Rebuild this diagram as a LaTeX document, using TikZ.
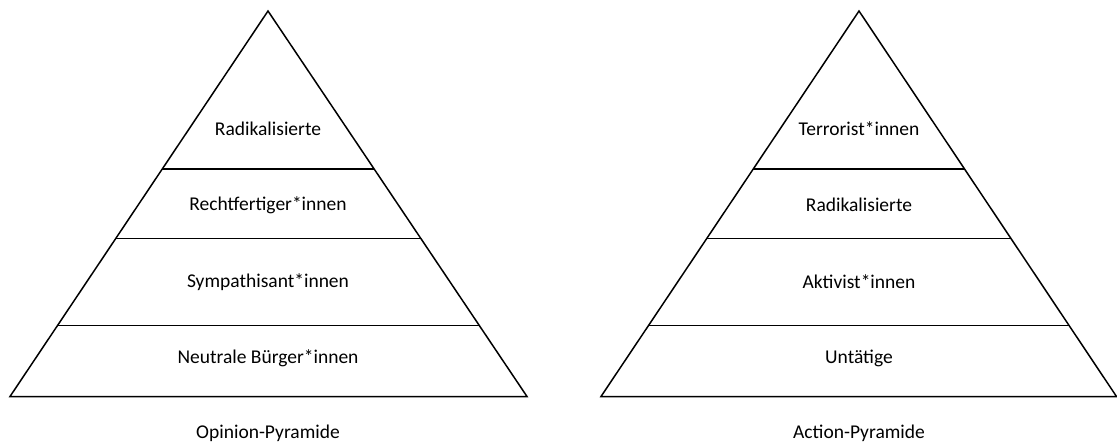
\documentclass[tikz,border=0pt]{standalone}
\usepackage{fontspec}
\setmainfont{Carlito}
\usetikzlibrary{calc}
\tikzset{
  edge/.style={line width=1.5pt, line join=miter},
  lbl/.style={font=\fontsize{19.5}{22}\selectfont, inner sep=0pt, anchor=center}
}
\begin{document}
\begin{tikzpicture}[x=1pt,y=-1pt]
\useasboundingbox (0,0) rectangle (1117,444);
% left pyramid
\coordinate (LA) at (268,11);
\coordinate (LL) at (10,396.5);
\coordinate (LR) at (527,396.5);
\draw[edge] (LA) -- (LL) -- (LR) -- cycle;
\foreach \t/\n in {0.4099/a,0.5896/b,0.8164/c}{
  \coordinate (L\n1) at ($(LA)!\t!(LL)$);
  \coordinate (L\n2) at ($(LA)!\t!(LR)$);
  \draw[edge] (L\n1) -- (L\n2);
}
\node[lbl] (l1) at (268,129) {Radikalisierte};
\node[lbl] (l2) at (268,205) {Rechtfertiger*innen};
\node[lbl] (l3) at (268,282) {Sympathisant*innen};
\node[lbl] (l4) at (268,358) {Neutrale Bürger*innen};
\node[lbl] (lt) at (268,433) {Opinion-Pyramide};
% right pyramid
\coordinate (RA) at (859,11);
\coordinate (RL) at (601,396.5);
\coordinate (RR) at (1116.5,396.5);
\draw[edge] (RA) -- (RL) -- (RR) -- cycle;
\foreach \t/\n in {0.4099/a,0.5896/b,0.8164/c}{
  \coordinate (R\n1) at ($(RA)!\t!(RL)$);
  \coordinate (R\n2) at ($(RA)!\t!(RR)$);
  \draw[edge] (R\n1) -- (R\n2);
}
\node[lbl] (r1) at (859,129) {Terrorist*innen};
\node[lbl] (r2) at (859,205) {Radikalisierte};
\node[lbl] (r3) at (859,282) {Aktivist*innen};
\node[lbl] (r4) at (859,358) {Untätige};
\node[lbl] (rt) at (859,433) {Action-Pyramide};
\end{tikzpicture}
\end{document}
